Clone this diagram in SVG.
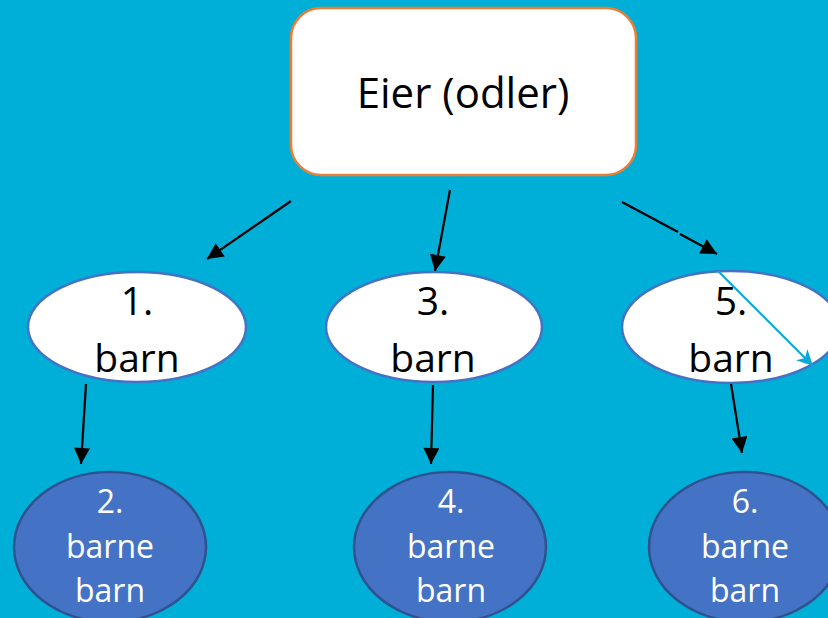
<svg xmlns="http://www.w3.org/2000/svg" width="828" height="618" viewBox="0 0 828 618">
<defs>
<style>
.lbl{font-family:"Open Sans","Liberation Sans",sans-serif;text-anchor:middle}
.child{fill:#ffffff;stroke:#4472C4;stroke-width:2.5}
.gchild{fill:#4472C4;stroke:#2F528F;stroke-width:2.5}
.conn{stroke:#000;stroke-width:2.2;fill:none}
</style>
<marker id="ah" viewBox="0 0 10 10" refX="10" refY="5" markerWidth="20" markerHeight="16" markerUnits="userSpaceOnUse" orient="auto"><path d="M0,0 L10,5 L0,10 z" fill="#000"/></marker>
<marker id="ahc" viewBox="0 0 10 10" refX="10" refY="5" markerWidth="18" markerHeight="16" markerUnits="userSpaceOnUse" orient="auto"><path d="M0,0 L10,5 L0,10 L3,5 z" fill="#0AA8D8"/></marker>
</defs>
<rect width="828" height="618" fill="#00AFD8"/>
<g id="root">
<rect x="291" y="8" width="345" height="167" rx="30" fill="#fff" stroke="#ED7D31" stroke-width="2.5"/>
<text class="lbl" x="463" y="108" font-size="42" fill="#000">Eier (odler)</text>
</g>
<g id="barn1">
<ellipse class="child" cx="137" cy="327" rx="109" ry="55"/>
<text class="lbl" x="137" y="315" font-size="39">1.</text>
<text class="lbl" x="137" y="372" font-size="39">barn</text>
</g>
<g id="barn3">
<ellipse class="child" cx="434" cy="327" rx="108" ry="55"/>
<text class="lbl" x="433" y="315" font-size="39">3.</text>
<text class="lbl" x="433" y="372" font-size="39">barn</text>
</g>
<g id="barn5">
<ellipse class="child" cx="731" cy="327" rx="109" ry="56"/>
<text class="lbl" x="731" y="315" font-size="39">5.</text>
<text class="lbl" x="731" y="372" font-size="39">barn</text>
</g>
<g id="barnebarn2">
<ellipse class="gchild" cx="110" cy="547" rx="96" ry="75"/>
<text class="lbl" x="110" y="513" font-size="32" fill="#fff">2.</text>
<text class="lbl" x="110" y="558" font-size="32" fill="#fff">barne</text>
<text class="lbl" x="110" y="602" font-size="32" fill="#fff">barn</text>
</g>
<g id="barnebarn4">
<ellipse class="gchild" cx="450" cy="547" rx="96" ry="75"/>
<text class="lbl" x="451" y="513" font-size="32" fill="#fff">4.</text>
<text class="lbl" x="451" y="558" font-size="32" fill="#fff">barne</text>
<text class="lbl" x="451" y="602" font-size="32" fill="#fff">barn</text>
</g>
<g id="barnebarn6">
<ellipse class="gchild" cx="745" cy="547" rx="96" ry="75"/>
<text class="lbl" x="745" y="513" font-size="32" fill="#fff">6.</text>
<text class="lbl" x="745" y="558" font-size="32" fill="#fff">barne</text>
<text class="lbl" x="745" y="602" font-size="32" fill="#fff">barn</text>
</g>
<g id="connectors">
<line class="conn" x1="291" y1="201" x2="207" y2="259" marker-end="url(#ah)"/>
<line class="conn" x1="450" y1="190" x2="435" y2="271" marker-end="url(#ah)"/>
<line class="conn" x1="622" y1="202" x2="678" y2="232"/>
<line class="conn" x1="680" y1="234" x2="717" y2="254" marker-end="url(#ah)"/>
<line x1="718" y1="271" x2="813" y2="366" stroke="#0AA8D8" stroke-width="2.2" marker-end="url(#ahc)"/>
<line class="conn" x1="86" y1="384" x2="81" y2="464" marker-end="url(#ah)"/>
<line class="conn" x1="433" y1="385" x2="431" y2="464" marker-end="url(#ah)"/>
<line class="conn" x1="731" y1="384" x2="742" y2="453" marker-end="url(#ah)"/>
</g>
</svg>
